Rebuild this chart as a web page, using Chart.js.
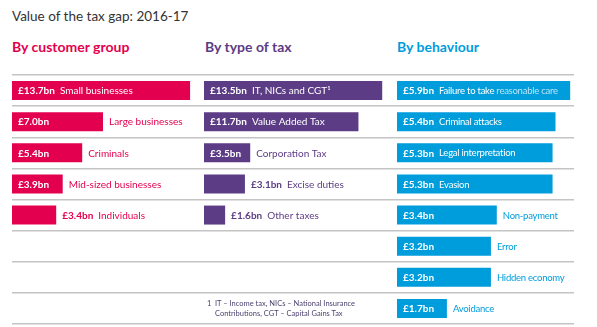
<!DOCTYPE html>
<html>
<head>
<meta charset="utf-8">
<script src="https://cdn.jsdelivr.net/npm/chart.js"></script>
<style>
body { margin: 0; background: #fff; font-family: Lato, sans-serif; }
#wrap { position: relative; width: 597px; height: 327px; overflow: hidden; }
.title { position: absolute; left: 12px; top: 8px; font-size: 13.5px; color: #333; }
.head { position: absolute; top: 38px; font-size: 14px; font-weight: bold; }
canvas { position: absolute; top: 73px; }
.note { position: absolute; left: 207px; top: 299px; font-size: 7.5px; color: #4b3f6e; line-height: 10px; }
.note span { display: inline-block; width: 8px; }
</style>
</head>
<body>
<div id="wrap">
  <div class="title">Value of the tax gap: 2016-17</div>
  <div class="head" style="left:12px;color:#e3004f">By customer group</div>
  <div class="head" style="left:205px;color:#5c3c85">By type of tax</div>
  <div class="head" style="left:397px;color:#009ddc">By behaviour</div>
  <canvas id="c1" width="192" height="253" style="left:12px"></canvas>
  <canvas id="c2" width="193" height="253" style="left:204px"></canvas>
  <canvas id="c3" width="177" height="253" style="left:397px"></canvas>
  <div class="note"><span>1</span>IT – Income tax, NICs – National Insurance<br><span></span>Contributions, CGT – Capital Gains Tax</div>
</div>
<script>
var customerGroups = ['Small businesses', 'Large businesses', 'Criminals', 'Mid-sized businesses', 'Individuals'];
var customerValues = [13.7, 7.0, 5.4, 3.9, 3.4];

var taxTypes = ['IT, NICs and CGT¹', 'Value Added Tax', 'Corporation Tax', 'Excise duties', 'Other taxes'];
var taxValues = [13.5, 11.7, 3.5, 3.1, 1.6];

var behaviours = ['Failure to take ', 'Criminal attacks', 'Legal interpretation', 'Evasion', 'Non-payment', 'Error', 'Hidden economy', 'Avoidance'];
var behaviourTails = ['reasonable care', '', '', '', '', '', '', ''];
var behaviourValues = [5.9, 5.4, 5.3, 5.3, 3.4, 3.2, 3.2, 1.7];

var ROWS = 8;

function pad(arr, fill) {
  var out = arr.slice();
  while (out.length < ROWS) out.push(fill);
  return out;
}

// writes "£x.xbn label" inside or beside each bar
var barText = {
  id: 'barText',
  afterDatasetsDraw: function (chart) {
    var ctx = chart.ctx;
    var o = chart.options.plugins.barText;
    var vals = chart.data.datasets[0].data;
    var max = Math.max.apply(null, vals.filter(function (v) { return v != null; }));
    var meta = chart.getDatasetMeta(0);
    var nameFont = o.nameFont || '10px Lato';
    ctx.save();
    ctx.textBaseline = 'middle';
    meta.data.forEach(function (bar, i) {
      var v = vals[i];
      if (v == null) return;
      var left = Math.min(bar.base, bar.x), right = Math.max(bar.base, bar.x);
      var w = right - left, y = bar.y + 0.5;
      var valText = '£' + v.toFixed(1) + 'bn';
      var name = chart.data.labels[i];
      var tail = (o.tails && o.tails[i]) || '';
      ctx.letterSpacing = '0px';
      ctx.font = 'bold 10px Lato';
      var vw = ctx.measureText(valText).width;
      var valInside = vw + 14 <= w;
      var x = valInside ? left + 6 : right + 6;
      ctx.fillStyle = valInside ? '#fff' : o.color;
      ctx.fillText(valText, x, y);
      x += vw + 5;
      ctx.font = nameFont;
      ctx.letterSpacing = o.spacing || '0px';
      var nw = ctx.measureText(name + tail).width;
      var nameInside = valInside && v / max > 0.6 && x + nw + 3 <= right;
      if (valInside && !nameInside) x = right + 6;
      ctx.fillStyle = nameInside ? '#fff' : o.color;
      ctx.fillText(name, x, y);
      if (tail) {
        x += ctx.measureText(name).width;
        ctx.fillStyle = nameInside ? 'rgba(255,255,255,0.72)' : o.color;
        ctx.fillText(tail, x, y);
      }
    });
    ctx.restore();
  }
};

function makeChart(id, labels, values, color, max, extra) {
  extra = extra || {};
  return new Chart(document.getElementById(id), {
    type: 'bar',
    data: {
      labels: pad(labels, ''),
      datasets: [{
        data: pad(values, null),
        backgroundColor: color,
        borderWidth: 0,
        categoryPercentage: 1,
        barPercentage: 0.61
      }]
    },
    options: {
      indexAxis: 'y',
      responsive: false,
      animation: false,
      layout: { padding: { top: 2, bottom: 2, left: 0, right: 0 } },
      scales: {
        x: { display: false, min: 0, max: max },
        y: {
          display: true,
          grid: { color: '#c4c4c4', lineWidth: 1.5, drawTicks: false, offset: true },
          border: { display: false },
          ticks: { display: false }
        }
      },
      plugins: {
        legend: { display: false },
        tooltip: { enabled: false },
        barText: { color: color, tails: extra.tails, nameFont: extra.nameFont, spacing: extra.spacing }
      }
    },
    plugins: [barText]
  });
}

makeChart('c1', customerGroups, customerValues, '#e3004f', 14.77);
makeChart('c2', taxTypes, taxValues, '#5c3c85', 14.62);
makeChart('c3', behaviours, behaviourValues, '#009ddc', 6.03,
  { tails: behaviourTails, nameFont: '9.5px Lato', spacing: '-0.25px' });
</script>
</body>
</html>
